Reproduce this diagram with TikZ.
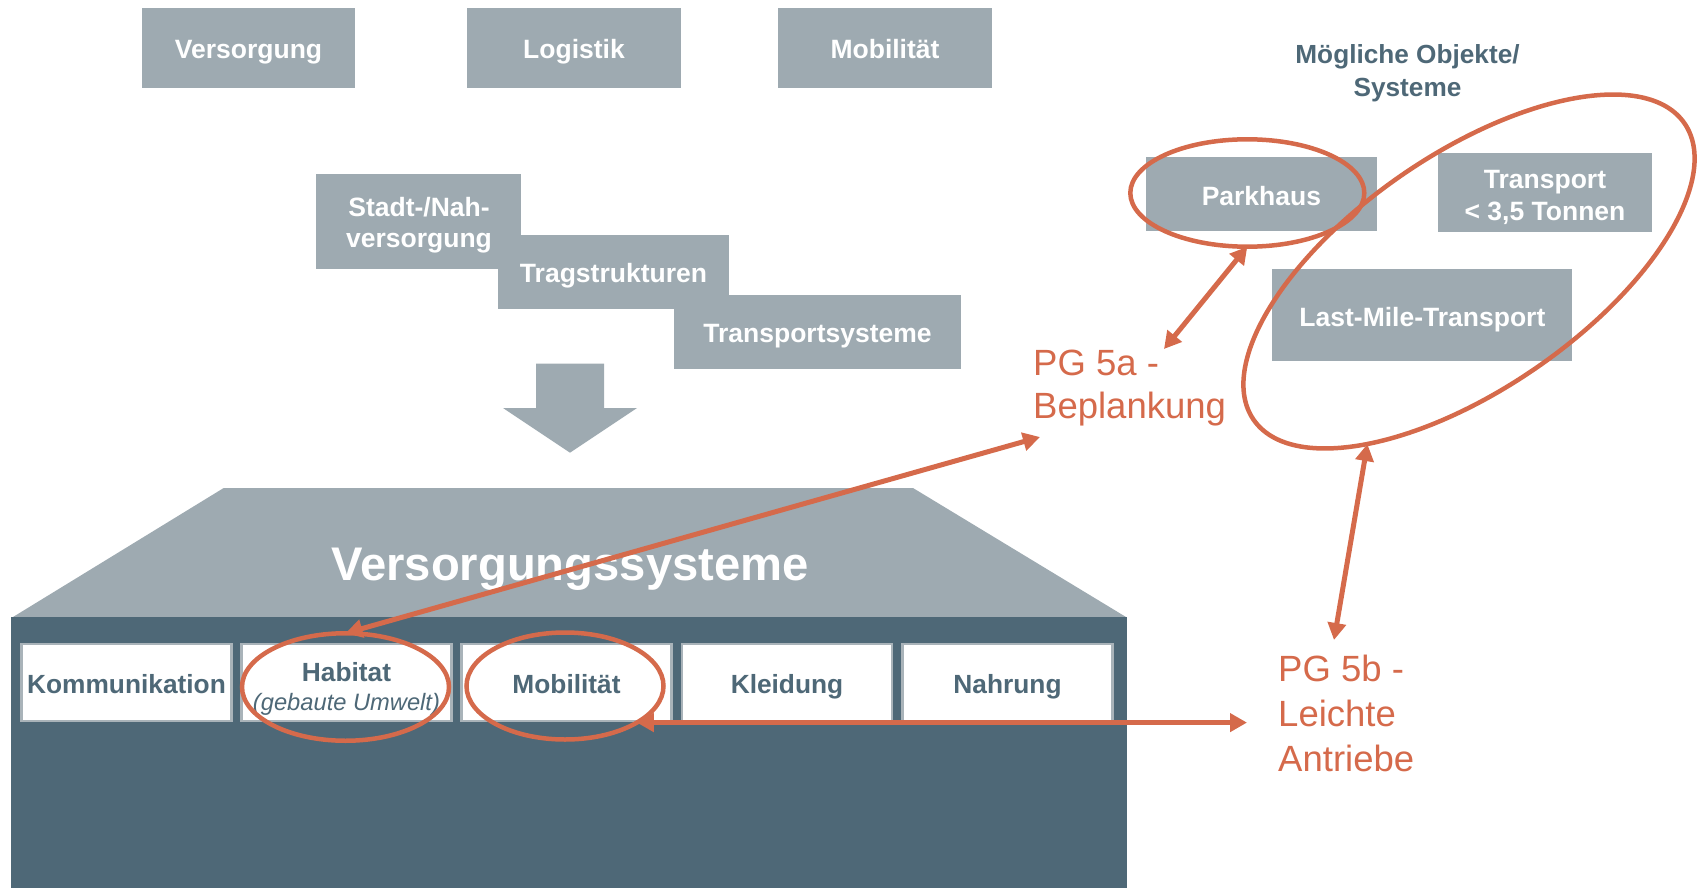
\documentclass[tikz,border=0pt]{standalone}
\usepackage{fontspec}
\setmainfont{Liberation Sans}
\usetikzlibrary{arrows.meta,shapes.geometric}
\definecolor{boxgray}{HTML}{9EAAB1}
\definecolor{slate}{HTML}{4E6877}
\definecolor{accent}{HTML}{D56A4B}
\definecolor{cellline}{HTML}{A9B3B9}
\begin{document}
\begin{tikzpicture}[x=1pt,y=-1pt,
  graybox/.style={fill=boxgray, draw=none, inner sep=0pt, outer sep=0pt, text=white,
    font=\fontsize{26.5}{32}\selectfont\bfseries, align=center},
  oneline/.style={text height=22pt, text depth=0pt},
  boxtext/.style={text=white, inner sep=0pt, align=center, anchor=base},
  cell/.style={fill=white, draw=cellline, line width=2.5pt, minimum width=210pt,
    minimum height=77pt, inner sep=0pt, text=slate,
    font=\fontsize{26.3}{28}\selectfont\bfseries, align=center},
  ring/.style={ellipse, draw=accent, line width=4.5pt, inner sep=0pt, outer sep=0pt},
  arr/.style={draw=accent, line width=5pt,
    arrows={Triangle[length=17pt,width=18pt]-Triangle[length=17pt,width=18pt]}},
  pgtext/.style={text=accent, font=\fontsize{36.5}{44}\selectfont, align=left, inner sep=0pt},
]
\useasboundingbox (0,0) rectangle (1697,888);

% top boxes
\node[graybox, oneline, minimum width=213pt, minimum height=79.5pt] (versorgung) at (248.5,48) {Versorgung};
\node[graybox, oneline, minimum width=213.5pt, minimum height=79.5pt] (logistik) at (574,48) {Logistik};
\node[graybox, oneline, minimum width=214pt, minimum height=80pt] (mobtop) at (885,48) {Mobilität};

% staircase
\node[graybox, minimum width=205.3pt, minimum height=95pt] (stadt) at (418.4,221.5) {};
\node[boxtext, font=\fontsize{26.5}{30.5}\selectfont\bfseries] (stadttxt) at (419,247) {Stadt-/Nah-\\versorgung};
\node[graybox, oneline, minimum width=231pt, minimum height=73.7pt] (trag) at (613.5,271.8) {Tragstrukturen};
\node[graybox, oneline, minimum width=287pt, minimum height=73.7pt] (transp) at (817.5,331.8) {Transportsysteme};

% big down arrow
\fill[boxgray] (536,363.7) -- (604,363.7) -- (604,408) -- (637,408) -- (570,452.7)
  -- (503,408) -- (536,408) -- cycle;

% house
\fill[boxgray] (223.7,488) -- (913,488) -- (1126,617) -- (13,617) -- cycle;
\fill[slate] (11,617) rectangle (1127,888);
\node[text=white, font=\fontsize{47.2}{50}\selectfont\bfseries, anchor=base] (vs) at (570,580) {Versorgungssysteme};

% cells
\node[cell, oneline] (komm) at (126.5,682.5) {Kommunikation};
\node[cell] (hab) at (346.5,682.5) {};
\node[text=slate, inner sep=0pt, align=center, anchor=base, font=\fontsize{26.3}{28.3}\selectfont\bfseries] (habtxt) at (346.5,710)
  {Habitat\\{\fontsize{23.7}{28.3}\selectfont\mdseries\itshape (gebaute Umwelt)}};
\node[cell, oneline] (mob) at (566.5,682.5) {Mobilität};
\node[cell, oneline] (kleid) at (787,682.5) {Kleidung};
\node[cell, oneline] (nahr) at (1007.5,682.5) {Nahrung};

% rings on cells
\node[ring, minimum width=207pt, minimum height=107.5pt] (hc) at (345.5,687) {};
\node[ring, minimum width=197pt, minimum height=107pt] (mc) at (565,686) {};

% right side
\node[text=slate, font=\fontsize{26.2}{33.4}\selectfont\bfseries, align=center, anchor=base] (moeg) at (1407.5,96.7) {Mögliche Objekte/\\Systeme};
\node[graybox, oneline, minimum width=231pt, minimum height=73.4pt] (park) at (1261.4,194) {Parkhaus};
\node[graybox, minimum width=214pt, minimum height=79.6pt] (transport) at (1545,192.5) {};
\node[boxtext, font=\fontsize{26.5}{31.7}\selectfont\bfseries] (transporttxt) at (1545,220) {Transport\\< 3,5 Tonnen};
\node[graybox, oneline, minimum width=300pt, minimum height=91.4pt] (lastmile) at (1422.4,315) {Last-Mile-Transport};

\node[ring, minimum width=234pt, minimum height=107.4pt] (pe) at (1247.3,193) {};
\node[ring, rotate=34.5, minimum width=523pt, minimum height=235pt] (be) at (1469,271.5) {};

% PG labels
\node[pgtext, font=\fontsize{36.5}{43.3}\selectfont, anchor=base west] (pga) at (1033,418.3) {PG 5a -\\Beplankung};
\node[pgtext, font=\fontsize{36.5}{45}\selectfont, anchor=base west] (pgb) at (1278,771.7) {PG 5b -\\Leichte\\Antriebe};

% arrow end points
\coordinate (paL) at (1040,437);
\coordinate (paT) at (1164,349);
\coordinate (pbL) at (1247,723);
\coordinate (pbT) at (1334,640);

\draw[arr] (hc.north) -- (paL);
\draw[arr] (mc.-27) -- (mc.-27 -| pbL);
\draw[arr] (pe.south) -- (paT);
\draw[arr] (be.205) -- (pbT);
\end{tikzpicture}
\end{document}
